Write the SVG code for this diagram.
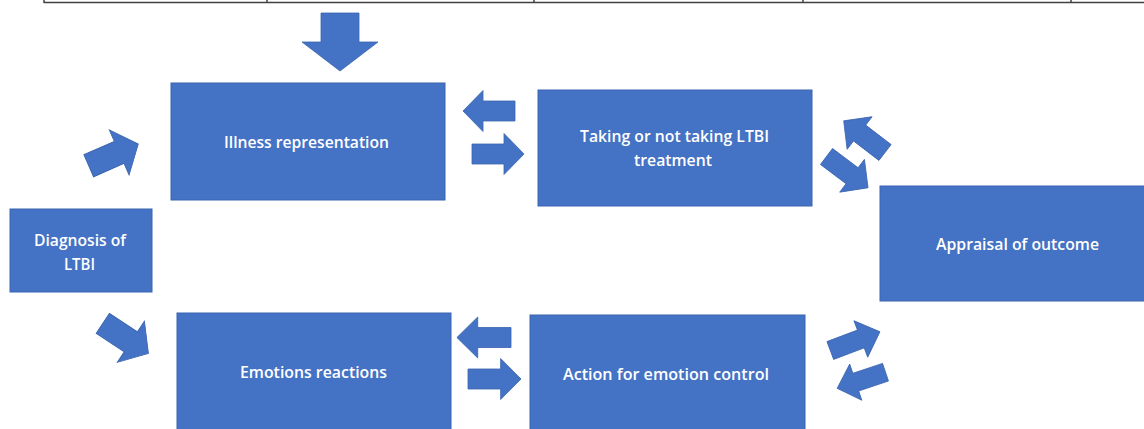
<svg xmlns="http://www.w3.org/2000/svg" width="1144" height="429" viewBox="0 0 1144 429">
<defs>
<style>
.box{fill:#4472C4;stroke:#3A64B0;stroke-width:1}
.arr{fill:#4472C4;stroke:#3A64B0;stroke-width:0.8}
.lbl{fill:#FFFFFF;font-family:"Open Sans","Liberation Sans",sans-serif;font-size:17px;font-weight:600;text-anchor:middle}
.rule{stroke:#404040;stroke-width:1.5;fill:none}
</style>
<polygon id="arrow" points="0,-10 32,-10 32,-20.5 52,0 32,20.5 32,10 0,10"/>
</defs>
<rect width="1144" height="429" fill="#FFFFFF"/>
<g id="table-edge">
<line class="rule" x1="44" y1="2.5" x2="1144" y2="2.5"/>
<line class="rule" x1="44" y1="0" x2="44" y2="3"/>
<line class="rule" x1="267" y1="0" x2="267" y2="3"/>
<line class="rule" x1="534" y1="0" x2="534" y2="3"/>
<line class="rule" x1="803" y1="0" x2="803" y2="3"/>
<line class="rule" x1="1071" y1="0" x2="1071" y2="3"/>
</g>
<g id="connectors">
<polygon class="arr" points="321,13 359,13 359,42 378,42 340,71 302,42 321,42"/>
<use href="#arrow" class="arr" transform="translate(88.7,165.8) rotate(-23.7) scale(1.04,1.2)"/>
<use href="#arrow" class="arr" transform="translate(102.8,323.3) rotate(33.4) scale(1.05,1.2)"/>
<use href="#arrow" class="arr" transform="translate(515,111) rotate(180)"/>
<use href="#arrow" class="arr" transform="translate(472,154)"/>
<use href="#arrow" class="arr" transform="translate(511,337.5) rotate(180) scale(1.04,1)"/>
<use href="#arrow" class="arr" transform="translate(468,379) scale(1.02,1)"/>
<use href="#arrow" class="arr" transform="translate(826.5,156.5) rotate(37)"/>
<use href="#arrow" class="arr" transform="translate(885,152.5) rotate(217.5)"/>
<use href="#arrow" class="arr" transform="translate(830.3,350.5) rotate(-20.7) scale(1.02,0.95)"/>
<use href="#arrow" class="arr" transform="translate(885.5,372.2) rotate(161.5) scale(0.98,0.93)"/>
</g>
<g id="node-diagnosis">
<rect class="box" x="10" y="209" width="142" height="83"/>
<text class="lbl" x="80" y="246" textLength="92" lengthAdjust="spacingAndGlyphs">Diagnosis of</text>
<text class="lbl" x="79.5" y="270" textLength="31" lengthAdjust="spacingAndGlyphs">LTBI</text>
</g>
<g id="node-illness">
<rect class="box" x="171" y="83" width="274" height="117"/>
<text class="lbl" x="306.5" y="148" textLength="165" lengthAdjust="spacingAndGlyphs">Illness representation</text>
</g>
<g id="node-taking">
<rect class="box" x="538" y="90" width="274" height="116"/>
<text class="lbl" x="674.5" y="142" textLength="189" lengthAdjust="spacingAndGlyphs">Taking or not taking LTBI</text>
<text class="lbl" x="673" y="166" textLength="78" lengthAdjust="spacingAndGlyphs">treatment</text>
</g>
<g id="node-appraisal">
<rect class="box" x="880" y="186" width="270" height="115"/>
<text class="lbl" x="1017.5" y="250" textLength="163" lengthAdjust="spacingAndGlyphs">Appraisal of outcome</text>
</g>
<g id="node-emotions">
<rect class="box" x="177" y="313" width="274" height="125"/>
<text class="lbl" x="313.5" y="378" textLength="147" lengthAdjust="spacingAndGlyphs">Emotions reactions</text>
</g>
<g id="node-action">
<rect class="box" x="530" y="315" width="275" height="125"/>
<text class="lbl" x="666" y="380" textLength="206" lengthAdjust="spacingAndGlyphs">Action for emotion control</text>
</g>
</svg>
